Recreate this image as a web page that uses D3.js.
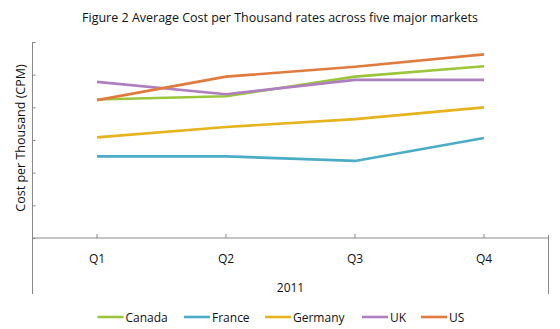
<!DOCTYPE html>
<html>
<head>
<meta charset="utf-8">
<script src="https://cdn.jsdelivr.net/npm/d3@7"></script>
<style>
  body { margin: 0; background: #fff; }
  text { font-family: "Open Sans", Lato, sans-serif; fill: #111; }
</style>
</head>
<body>
<svg id="chart" width="560" height="329"></svg>
<script>
// quarters on the x axis, grouped under one year
var quarters = ["Q1", "Q2", "Q3", "Q4"];
var year = "2011";
var markets = ["Canada", "France", "Germany", "UK", "US"];
var colors = ["#9bc63b", "#4bacc6", "#e6b31c", "#ad7fbe", "#e07b3e"];

// average CPM per quarter, one list per market
var canada = [21.2, 21.7, 24.7, 26.3];
var france = [12.5, 12.5, 11.8, 15.3];
var germany = [15.4, 17.0, 18.2, 20.0];
var uk = [23.9, 22.0, 24.2, 24.2];
var us = [21.1, 24.7, 26.2, 28.1];
var series = [canada, france, germany, uk, us];

var yTicks = [0, 5, 10, 15, 20, 25, 30];

var svg = d3.select("#chart");
var plotLeft = 32.5, plotRight = 548.5, plotTop = 42, plotBottom = 238;

var x = d3.scaleBand().domain(quarters).range([plotLeft, plotRight]);
var y = d3.scaleLinear().domain([0, 30]).range([plotBottom, plotTop]);

// title
svg.append("text")
    .attr("x", 280)
    .attr("y", 22)
    .attr("text-anchor", "middle")
    .style("font-size", "12.5px")
    .text("Figure 2 Average Cost per Thousand rates across five major markets");

// y axis: ticks only, no labels
var yAxis = svg.append("g")
    .attr("transform", "translate(" + plotLeft + ",0)")
    .call(d3.axisRight(y).tickValues(yTicks).tickSize(3).tickFormat(""));
yAxis.select(".domain").remove();
yAxis.selectAll("line").attr("stroke", "#888");
svg.append("line")
    .attr("x1", plotLeft).attr("x2", plotLeft)
    .attr("y1", plotTop).attr("y2", 294)
    .attr("stroke", "#888");

// x axis with ticks at quarter centres
var xAxis = svg.append("g")
    .attr("transform", "translate(0," + plotBottom + ")")
    .call(d3.axisTop(x).tickSize(4).tickFormat(""));
xAxis.select(".domain").remove();
xAxis.selectAll("line").attr("stroke", "#888");
svg.append("line")
    .attr("x1", plotLeft).attr("x2", plotRight)
    .attr("y1", plotBottom).attr("y2", plotBottom)
    .attr("stroke", "#888");
svg.append("line")
    .attr("x1", plotRight).attr("x2", plotRight)
    .attr("y1", 235).attr("y2", 294)
    .attr("stroke", "#888");

svg.append("g").selectAll("text")
    .data(quarters)
    .enter().append("text")
    .attr("x", function (d) { return x(d) + x.bandwidth() / 2; })
    .attr("y", 263)
    .attr("text-anchor", "middle")
    .style("font-size", "12px")
    .text(function (d) { return d; });

svg.append("text")
    .attr("x", (plotLeft + plotRight) / 2)
    .attr("y", 292)
    .attr("text-anchor", "middle")
    .style("font-size", "12px")
    .text(year);

// y axis title
svg.append("text")
    .attr("transform", "translate(25,138) rotate(-90)")
    .attr("text-anchor", "middle")
    .style("font-size", "12.5px")
    .text("Cost per Thousand (CPM)");

// one line per market
var line = d3.line()
    .x(function (d, i) { return x(quarters[i]) + x.bandwidth() / 2; })
    .y(function (d) { return y(d); });

svg.append("g").selectAll("path")
    .data(series)
    .enter().append("path")
    .attr("d", line)
    .attr("fill", "none")
    .attr("stroke", function (d, i) { return colors[i]; })
    .attr("stroke-width", 2.6)
    .attr("stroke-linejoin", "round");

// legend
var legendX = [97.5, 184, 265, 362, 421];
var legend = svg.append("g").selectAll("g")
    .data(markets)
    .enter().append("g")
    .attr("transform", function (d, i) { return "translate(" + legendX[i] + ",317)"; });
legend.append("line")
    .attr("x1", 0).attr("x2", 26)
    .attr("stroke", function (d, i) { return colors[i]; })
    .attr("stroke-width", 2.6);
legend.append("text")
    .attr("x", 28)
    .attr("y", 4.5)
    .style("font-size", "12px")
    .text(function (d) { return d; });
</script>
</body>
</html>
